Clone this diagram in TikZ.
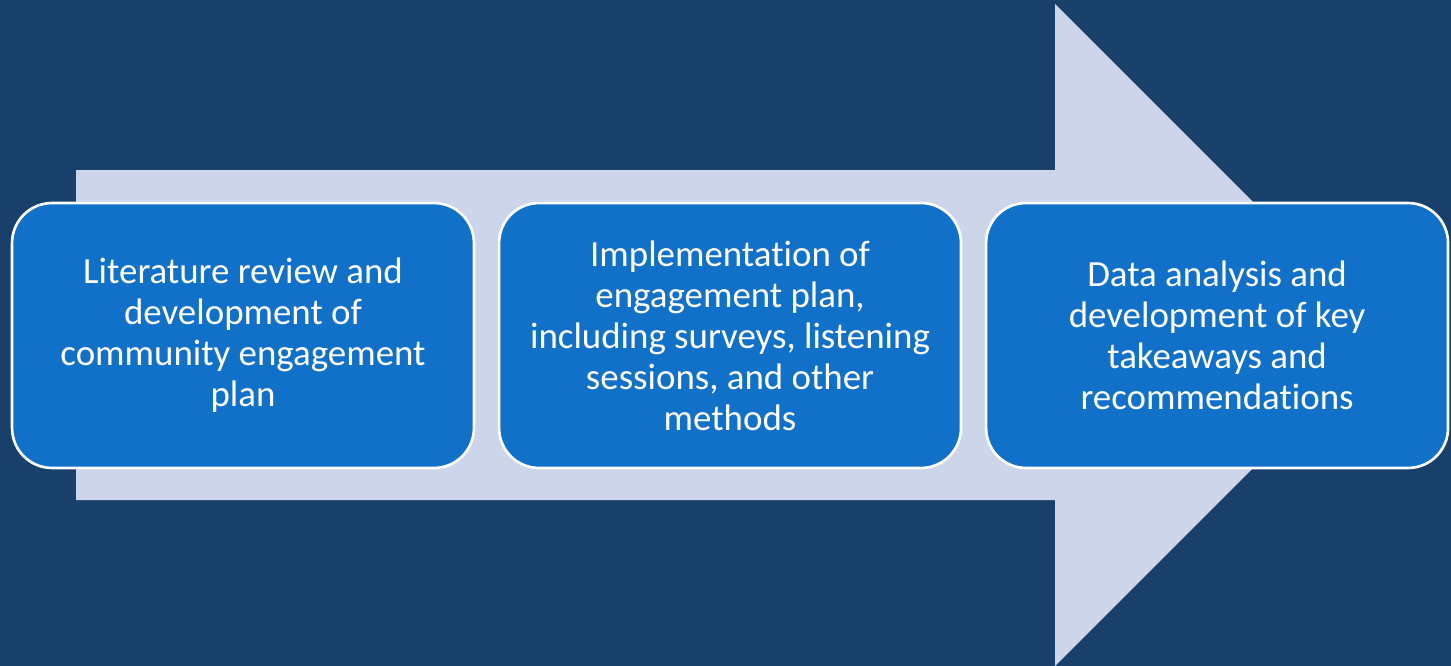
\documentclass[tikz,border=0pt]{standalone}
\usepackage{fontspec}
\setmainfont[Ligatures=NoCommon]{Carlito}
\usetikzlibrary{positioning}

\begin{document}
\begin{tikzpicture}[x=0.02cm, y=-0.02cm, every node/.style={font=\fontsize{21}{23.3}\selectfont}]
% Define colors
\definecolor{navy}{RGB}{25,63,107}
\definecolor{lilac}{RGB}{205,213,234}
\definecolor{boxblue}{RGB}{17,112,200}
\tikzset{stage/.style={draw=white, line width=1.5pt, fill=boxblue, text=white,
        rounded corners=0.8cm, minimum width=9.24cm, minimum height=5.3cm, align=center}}

% Background
\fill[navy] (0,0) rectangle (1451,666);
\useasboundingbox (0,0) rectangle (1451,666);

% Big arrow behind the stages
\fill[lilac] (76,170) -- (1055,170) -- (1055,4) -- (1386,335) -- (1055,666) -- (1055,500) -- (76,500) -- cycle;

% Stages
\node[stage] (lit) at (243,335.5) {Literature review and\\development of\\community engagement\\plan};
\node[stage, right=0.45cm of lit] (impl) {Implementation of\\engagement plan,\\including surveys, listening\\sessions, and other\\methods};
\node[stage, right=0.45cm of impl] (data) {Data analysis and\\development of key\\takeaways and\\recommendations};
\end{tikzpicture}
\end{document}
